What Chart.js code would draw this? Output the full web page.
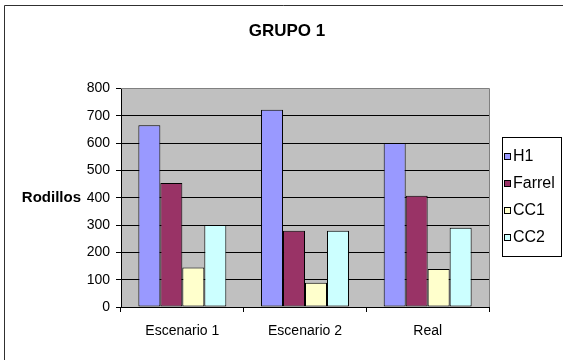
<!DOCTYPE html>
<html>
<head>
<meta charset="utf-8">
<script src="https://cdn.jsdelivr.net/npm/chart.js@4/dist/chart.umd.min.js"></script>
<style>
  html, body { margin: 0; padding: 0; background: #fff; }
  #wrap { width: 563px; height: 360px; }
</style>
</head>
<body>
<div id="wrap"><canvas id="c" width="563" height="360"></canvas></div>
<script>
// Categories and series
const categories = ['Escenario 1', 'Escenario 2', 'Real'];
const h1Values     = [665, 722, 600];
const farrelValues = [454, 279, 407];
const cc1Values    = [145, 89, 139];
const cc2Values    = [300, 279, 290];
const seriesNames  = ['H1', 'Farrel', 'CC1', 'CC2'];
const seriesColors = ['#9999FF', '#993366', '#FFFFCC', '#CCFFFF'];
const yTicks = [0, 100, 200, 300, 400, 500, 600, 700, 800];
const chartTitle = 'GRUPO 1';
const yAxisTitle = 'Rodillos';

const FONT = "'Liberation Sans', Arial, sans-serif";

// Plot-area background, frame, axis caption and boxed legend
const decorations = {
  id: 'decorations',
  beforeDraw(chart) {
    const { ctx, chartArea: a } = chart;
    ctx.save();
    ctx.fillStyle = '#C0C0C0';
    ctx.fillRect(a.left, a.top, a.right - a.left, a.bottom - a.top);
    ctx.restore();
  },
  afterDraw(chart) {
    const { ctx, chartArea: a } = chart;
    ctx.save();
    // plot border (top and right)
    ctx.strokeStyle = '#808080';
    ctx.lineWidth = 1;
    ctx.beginPath();
    ctx.moveTo(a.left, Math.round(a.top) + 0.5);
    ctx.lineTo(Math.round(a.right) + 0.5, Math.round(a.top) + 0.5);
    ctx.lineTo(Math.round(a.right) + 0.5, a.bottom);
    ctx.stroke();

    // outer frame
    ctx.strokeStyle = '#303030';
    ctx.beginPath();
    ctx.moveTo(4.5, 360);
    ctx.lineTo(4.5, 5.5);
    ctx.lineTo(563, 5.5);
    ctx.stroke();

    // horizontal axis caption beside the value axis
    const yScale = chart.scales.y;
    ctx.fillStyle = '#000';
    ctx.font = 'bold 15px ' + FONT;
    ctx.textAlign = 'right';
    ctx.textBaseline = 'middle';
    ctx.fillText(yAxisTitle, 81, yScale.getPixelForValue(400));

    // legend
    const lx = 502, ly = 137, lw = 60, lh = 120;
    ctx.fillStyle = '#fff';
    ctx.fillRect(lx, ly, lw, lh);
    ctx.strokeStyle = '#000';
    ctx.strokeRect(lx + 0.5, ly + 0.5, lw - 1, lh - 1);
    ctx.font = '16px ' + FONT;
    ctx.textAlign = 'left';
    chart.data.datasets.forEach((ds, i) => {
      const cy = ly + 19 + i * 27;
      ctx.fillStyle = ds.backgroundColor;
      ctx.fillRect(504, cy - 3, 6, 6);
      ctx.strokeStyle = '#000';
      ctx.strokeRect(504.5, cy - 2.5, 6, 6);
      ctx.fillStyle = '#000';
      ctx.fillText(ds.label, 513, cy + 1);
    });
    ctx.restore();
  }
};

const seriesValues = [h1Values, farrelValues, cc1Values, cc2Values];

new Chart(document.getElementById('c'), {
  type: 'bar',
  data: {
    labels: categories,
    datasets: seriesNames.map((name, i) => ({
      label: name,
      data: seriesValues[i],
      backgroundColor: seriesColors[i],
      borderColor: '#000',
      borderWidth: 1,
      borderSkipped: false,
      categoryPercentage: 0.717,
      barPercentage: 1.0
    }))
  },
  options: {
    responsive: false,
    animation: false,
    devicePixelRatio: 1,
    layout: { padding: { left: 85, right: 74, top: 0, bottom: 0 } },
    plugins: {
      legend: { display: false },
      tooltip: { enabled: false },
      title: {
        display: true,
        text: chartTitle,
        color: '#000',
        font: { family: FONT, size: 17, weight: 'bold', lineHeight: 1.2 },
        padding: { top: 21, bottom: 47 }
      }
    },
    scales: {
      x: {
        offset: true,
        afterFit(scale) { scale.height = 53; },
        grid: {
          display: true,
          offset: true,
          drawOnChartArea: false,
          drawTicks: true,
          tickLength: 5,
          color: '#000'
        },
        border: { display: true, color: '#000', width: 1 },
        ticks: {
          color: '#000',
          padding: 11,
          font: { family: FONT, size: 14 }
        }
      },
      y: {
        min: 0,
        max: 800,
        afterFit(scale) { scale.width = 36; },
        afterBuildTicks(scale) { scale.ticks = yTicks.map(v => ({ value: v })); },
        grid: {
          color: (c) => (c.tick && c.tick.value === 800 ? '#808080' : '#000'),
          tickColor: '#000',
          lineWidth: 1,
          drawTicks: true,
          tickLength: 5
        },
        border: { display: true, color: '#000', width: 1 },
        ticks: {
          color: '#000',
          padding: 6,
          font: { family: FONT, size: 14 }
        }
      }
    }
  },
  plugins: [decorations]
});
</script>
</body>
</html>
